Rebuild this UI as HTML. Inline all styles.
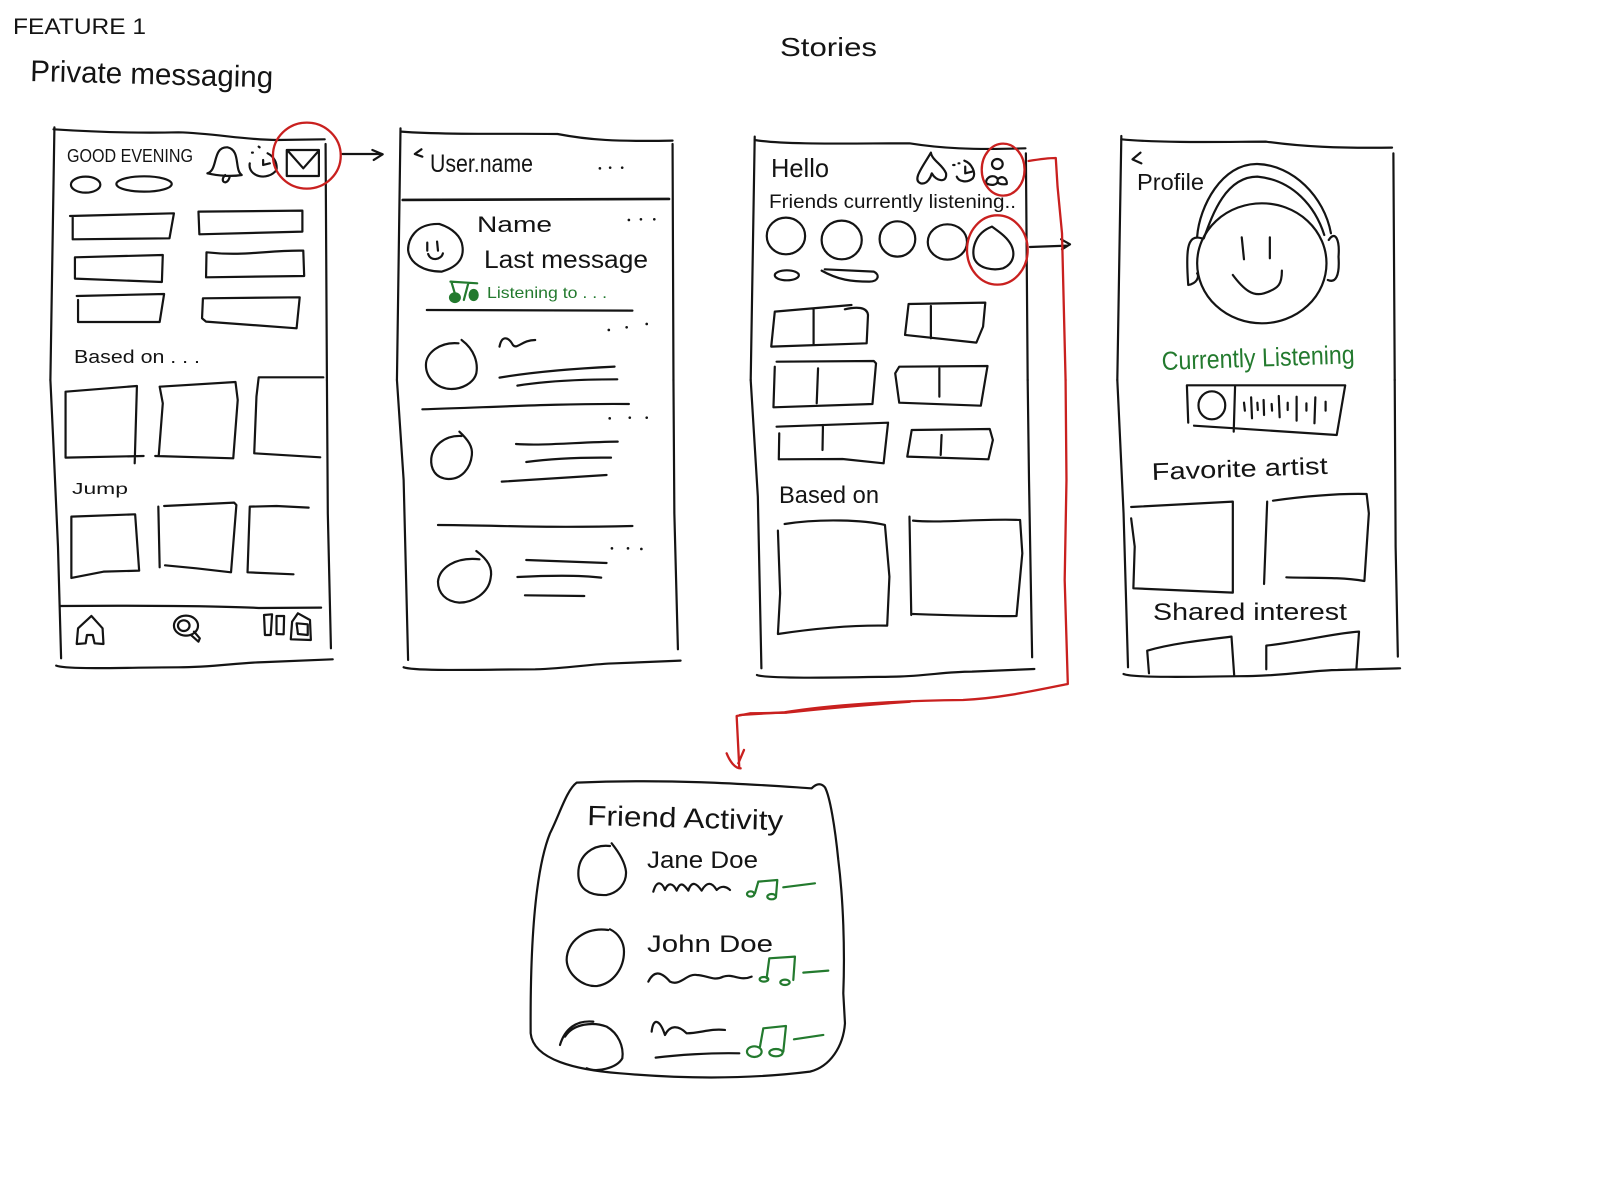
<!DOCTYPE html>
<html><head><meta charset="utf-8"><title>Wireframes</title>
<style>
html,body{margin:0;padding:0;background:#fff;width:1600px;height:1180px;overflow:hidden}
svg{display:block}
path,ellipse{fill:none;stroke:#141414;stroke-width:2.2;vector-effect:non-scaling-stroke;stroke-linecap:round;stroke-linejoin:round}
.r path,.r ellipse{stroke:#c9201f;stroke-width:2.3}
.g path,.g ellipse{stroke:#237a2e;stroke-width:2.2}
.f{fill:#237a2e!important}
.d path{stroke-width:2.6}
text{font-family:"Liberation Sans",sans-serif;fill:#141414}
.gt{fill:#237a2e}
</style></head><body>
<svg width="1600" height="1180" viewBox="0 0 1600 1180" xmlns="http://www.w3.org/2000/svg">
<rect width="1600" height="1180" fill="#fff"/>

<!-- Z1 -->
<g transform="translate(0,0) scale(.446,.3333)">
<path d="M122 382 L113 1140"/>
<path d="M120 388 C200 395 300 400 400 397 C480 400 550 420 620 420 L728 418"/>
<path d="M730 432 L733 1140"/>
<path d="M465 520 C490 510 475 440 510 442 C540 450 525 510 542 525 C520 530 490 528 465 520 M505 525 C490 545 510 560 515 530"/>
<path d="M560 490 C555 530 600 545 620 510 C622 490 615 470 600 460 M565 458 l2 0 M580 440 l2 2 M590 480 L590 495 L605 490"/>
<path d="M643 450 L715 450 L715 528 L643 528 Z M645 452 L680 505 L715 452"/>
<path d="M768 462 L855 462 M835 450 L858 463 L838 480"/>
<ellipse cx="192" cy="554" rx="33" ry="24"/><ellipse cx="323" cy="552" rx="62" ry="23"/>
<path d="M157 648 L390 640 L380 715 L163 718 L163 650"/>
<path d="M445 635 L678 632 L678 695 L447 703 Z"/>
<path d="M168 772 L365 765 L363 846 L168 836 Z"/>
<path d="M463 757 C550 770 600 750 680 752 L682 828 L462 832 Z"/>
<path d="M172 888 L368 882 L358 966 L175 966 L175 900"/>
<path d="M455 895 L672 892 L665 985 L462 965 L453 955 Z"/>
<!-- frame 2 -->
<path d="M898 385 L890 1140"/><path d="M1508 432 L1510 1140"/>
<path d="M900 395 C1000 405 1150 400 1250 402 C1320 420 1380 425 1508 422"/>
<path d="M903 600 L1500 597" style="stroke-width:2.6"/>
<path d="M945 448 L930 462 L947 470"/>
<g class="d"><path d="M1345 505 l.1 0 M1368 503 l.1 0 M1395 503 l.1 0 M1410 660 l.1 0 M1437 658 l.1 0 M1467 658 l.1 0 M1365 990 l.1 0 M1405 982 l.1 0 M1450 972 l.1 0"/></g>
<path d="M985 672 C930 670 915 720 915 750 C918 790 950 815 990 815 C1030 800 1040 770 1037 740 C1035 710 1015 685 985 672"/>
<path d="M958 728 L958 752 M980 725 L982 752 M960 762 C965 785 990 780 993 760"/>
<path d="M957 930 L1418 932"/>
<g class="g"><path d="M1010 845 L1070 850 M1012 845 L1022 890 M1050 850 L1040 900"/>
<ellipse class="f" cx="1020" cy="893" rx="11" ry="13"/><ellipse class="f" cx="1062" cy="885" rx="9" ry="15"/></g>
<path d="M1035 1020 C1065 1050 1072 1090 1068 1120 C1062 1150 1035 1168 1010 1167 C980 1165 955 1135 955 1095 C955 1060 985 1025 1028 1030"/>
<path d="M1120 1040 C1125 1005 1140 1010 1150 1035 C1160 1050 1170 1020 1200 1020"/>
<path d="M1120 1133 C1200 1115 1300 1105 1378 1100"/>
<path d="M1160 1157 C1230 1142 1300 1138 1384 1138"/>
<g class="r"><ellipse cx="688" cy="467" rx="76" ry="99"/></g>
</g>

<!-- Z2 -->
<g transform="translate(0,380) scale(.446,.3333)">
<path d="M113 0 L120 200 L130 500 L137 835"/>
<path d="M733 0 L735 400 L742 805"/>
<path d="M126 857 C150 870 300 862 400 862 C480 862 530 848 600 846 L746 838"/>
<path d="M135 678 C300 676 500 678 580 684 L720 683"/>
<path d="M147 35 L307 18 L302 250 M147 35 L147 233 L322 228"/>
<path d="M358 20 L528 6 L533 60 L523 235 L348 228 M358 20 L365 70 L356 225"/>
<path d="M725 -8 L580 -8 L575 50 L570 220 L718 232"/>
<path d="M160 410 L303 403 L312 572 L232 575 L160 594 Z"/>
<path d="M368 378 L525 368 L530 375 L518 577 L440 565 L370 556 M355 380 L358 562"/>
<path d="M692 383 L620 378 L560 380 L555 577 L658 583"/>
<path d="M172 792 L175 745 L205 708 L230 745 L232 792 L212 790 L208 765 L195 765 L192 790 Z"/>
<ellipse cx="417" cy="737" rx="27" ry="30"/><ellipse cx="412" cy="737" rx="13" ry="16"/>
<path d="M428 765 L445 785 L448 775 L435 755"/>
<path d="M592 705 L610 703 L607 765 L594 765 Z M620 708 L637 708 L636 763 L620 762 Z M655 725 L668 700 L695 720 L697 780 L652 778 Z M665 730 L690 733 L690 765 L668 762 Z"/>
<!-- frame 2 -->
<path d="M890 0 L905 300 L915 840"/><path d="M1510 0 L1512 400 L1520 808"/>
<path d="M905 862 C930 875 1100 868 1200 868 C1280 865 1320 852 1380 850 L1526 842"/>
<path d="M947 88 C1100 82 1250 70 1410 72"/>
<g class="d"><path d="M1367 115 l.1 0 M1412 113 l.1 0 M1450 113 l.1 0 M1372 505 l.1 0 M1408 505 l.1 0 M1438 507 l.1 0"/></g>
<path d="M1030 155 C1050 180 1060 200 1058 225 C1055 265 1035 298 1005 297 C975 295 965 265 967 235 C970 200 995 165 1035 168"/>
<path d="M1157 192 C1220 198 1300 186 1385 185 M1180 246 C1240 235 1300 232 1370 233 M1125 305 L1360 285"/>
<path d="M982 435 C1100 435 1200 445 1418 438"/>
<path d="M1068 513 C1095 540 1105 565 1100 595 C1095 640 1060 668 1030 668 C1000 665 982 640 982 605 C985 565 1020 530 1075 538"/>
<path d="M1180 540 L1360 549 M1160 591 C1220 587 1300 585 1348 593 M1177 646 L1310 648"/>
</g>

<!-- Z3 -->
<g transform="translate(740,0) scale(.446,.3333)">
<path d="M33 410 L24 1140"/><path d="M641 460 L645 1140"/>
<path d="M33 420 C100 435 250 430 380 430 C450 445 520 450 640 445"/>
<path d="M428 458 C410 500 385 540 405 550 C420 555 428 530 430 520 C440 545 465 550 462 520 C455 495 430 480 428 458"/>
<path d="M478 495 l3 0 M490 490 l2 0 M503 482 C520 490 530 520 522 535 C510 550 490 545 486 530 M505 500 L505 520 L520 515"/>
<ellipse cx="577" cy="492" rx="12" ry="15"/>
<path d="M552 550 C550 530 570 520 578 538 C590 522 600 540 598 552 C585 555 575 550 578 540 M552 550 C565 558 575 555 578 545"/>
<ellipse cx="103" cy="708" rx="43" ry="55"/><ellipse cx="228" cy="720" rx="45" ry="58"/>
<ellipse cx="353" cy="717" rx="40" ry="53"/><ellipse cx="465" cy="726" rx="44" ry="53"/>
<path d="M565 680 C525 700 520 750 525 775 C535 808 570 812 590 805 C615 790 617 760 608 735 C598 710 580 695 565 680"/>
<ellipse cx="105" cy="826" rx="27" ry="15"/>
<path d="M183 812 C220 840 250 845 290 845 C310 845 315 825 300 815 L190 808"/>
<path d="M78 935 L250 915 M235 928 C260 920 285 920 287 945 L284 1030 L70 1040 L78 935 M165 925 L165 1035"/>
<path d="M378 912 L550 908 L545 980 L530 1028 L370 1005 Z M428 918 L428 1015"/>
<path d="M650 741 L735 737 M720 718 L740 733 L722 748"/>
<!-- frame 4 -->
<path d="M855 408 L846 1140"/><path d="M1465 460 L1468 1140"/>
<path d="M855 418 C950 430 1100 425 1180 425 C1260 440 1340 445 1462 443"/>
<path d="M898 458 L880 478 L900 490"/>
<ellipse cx="1170" cy="790" rx="145" ry="180"/>
<path d="M1025 710 C1030 620 1080 490 1160 492 C1240 495 1310 590 1325 700"/>
<path d="M1040 715 C1060 640 1090 530 1160 530 C1240 540 1290 620 1310 705"/>
<path d="M1035 715 C1000 700 1000 760 1005 855 C1025 850 1030 830 1025 820"/>
<path d="M1320 720 C1335 690 1345 720 1342 770 C1345 830 1335 850 1318 840"/>
<path d="M1125 712 L1130 778 M1188 712 L1188 775 M1105 825 C1130 870 1150 890 1175 880 C1210 865 1215 850 1215 812"/>
<g class="r">
<ellipse cx="590" cy="509" rx="48" ry="78"/><ellipse cx="577" cy="750" rx="68" ry="104"/>
<path d="M647 483 C670 478 690 474 708 474 L712 560 L722 700 L730 1140"/>
</g>
</g>

<!-- Z4 -->
<g transform="translate(740,380) scale(.446,.3333)">
<path d="M24 0 L40 350 L48 865"/><path d="M645 0 L648 300 L655 832"/>
<path d="M38 885 C60 898 250 892 350 890 C420 888 460 875 520 875 L660 867"/>
<path d="M82 -55 L300 -57 L305 -50 L297 72 L75 82 L78 -40 M175 -35 L172 70"/>
<path d="M357 -40 L555 -42 L540 77 L357 68 L348 -20 Z M447 -35 L447 50"/>
<path d="M82 140 L332 128 L322 250 L230 237 L87 238 L88 160 M186 135 L185 210"/>
<path d="M385 150 L560 147 L567 180 L557 238 L375 230 Z M452 165 L450 225"/>
<path d="M100 432 C180 415 280 420 325 435 L335 590 L330 737 C250 735 170 745 85 762 L90 640 L85 452"/>
<path d="M388 422 C450 430 550 415 628 420 L633 520 L620 708 C550 710 450 705 388 702 M380 410 L384 705"/>
<!-- frame 4 -->
<path d="M846 0 L860 400 L870 862"/><path d="M1468 0 L1470 500 L1475 830"/>
<path d="M860 882 C880 895 1050 890 1150 888 C1240 885 1290 870 1340 870 L1480 865"/>
<path d="M1002 16 L1357 16 L1338 165 L1110 145 L1018 137 M1002 16 L1005 128 M1110 20 L1107 155"/>
<ellipse cx="1058" cy="76" rx="30" ry="42"/>
<path d="M1130 68 L1132 92 M1146 52 L1148 115 M1160 68 L1161 90 M1174 60 L1175 105 M1192 72 L1193 92 M1208 48 L1210 112 M1228 68 L1228 90 M1248 50 L1248 122 M1270 70 L1270 92 M1290 52 L1288 130 M1313 65 L1313 92"/>
<path d="M877 381 L1105 365 L1105 638 L882 625 L885 500 L877 415"/>
<path d="M1195 362 C1260 350 1340 340 1405 342 L1410 400 L1400 603 C1340 590 1280 595 1225 592 M1182 365 L1175 612"/>
<path d="M917 880 L913 812 C970 790 1040 780 1102 770 L1108 885"/>
<path d="M1180 868 L1180 797 C1260 785 1330 760 1388 755 L1382 868"/>
<g class="r"><path d="M730 0 L732 300 L728 600 L735 912 C650 935 580 955 500 960 C350 962 200 975 100 997 L0 1005"/></g>
</g>

<!-- Z5 -->
<g transform="translate(510,700) scale(.3333)">
<g class="r"><path d="M1200 5 C1000 20 900 30 830 38 L720 40 L680 48 L688 205 M650 160 C660 185 675 205 692 205 M702 150 L685 190"/></g>
<path d="M905 265 C750 255 500 235 200 248 C170 270 150 340 120 400 C80 500 60 700 62 1000 C70 1080 200 1110 330 1120 C500 1135 700 1140 900 1115 C960 1100 1000 1040 1005 970 L1000 880 C1005 750 1000 600 985 480 C975 380 960 290 945 262 C930 245 915 255 905 265"/>
<path d="M300 438 C250 432 205 465 205 520 C205 565 235 588 290 585 C325 578 350 550 348 515 C345 485 325 455 305 430"/>
<path d="M295 690 C225 680 170 725 170 780 C172 825 220 862 262 858 C310 850 342 805 342 755 C342 725 325 700 300 688"/>
<path d="M150 1035 C165 985 200 960 250 965 M165 1010 C190 970 250 965 290 980 C325 1000 342 1040 337 1075 C320 1105 260 1118 230 1105"/>
<path d="M430 575 C440 540 455 545 465 570 C475 545 490 550 500 572 C510 545 520 550 535 572 C545 540 560 550 575 572 C590 545 605 545 620 570 C635 555 650 560 660 570"/>
<path d="M415 845 C430 815 450 810 480 845 C510 860 530 820 560 825 C590 825 610 845 640 830 C670 820 690 845 725 830"/>
<path d="M425 995 C430 950 450 960 465 1005 C480 975 505 975 530 1000 C570 1000 600 985 645 990"/>
<path d="M437 1073 C500 1065 600 1058 688 1060"/>
<g class="g">
<path d="M745 545 L802 540 L798 590 M745 545 L735 580 M820 562 L915 550"/>
<ellipse cx="722" cy="582" rx="11" ry="8"/><ellipse cx="785" cy="590" rx="13" ry="8"/>
<path d="M778 775 L855 770 L850 840 M778 775 L770 835 M880 818 L955 812"/>
<ellipse cx="762" cy="838" rx="13" ry="7"/><ellipse cx="825" cy="847" rx="14" ry="8"/>
<path d="M760 985 L828 978 L820 1055 M760 985 L750 1040 M852 1018 L940 1005"/>
<ellipse cx="733" cy="1055" rx="22" ry="16"/><ellipse cx="798" cy="1058" rx="20" ry="11"/>
</g>
</g>

<!-- Text -->
<text x="13" y="34" font-size="22" textLength="133" lengthAdjust="spacingAndGlyphs">FEATURE 1</text>
<text x="30" y="81" font-size="30" textLength="243" lengthAdjust="spacingAndGlyphs" transform="rotate(1.5 30 81)">Private messaging</text>
<text x="67" y="162" font-size="18" textLength="126" lengthAdjust="spacingAndGlyphs">GOOD EVENING</text>
<text x="74" y="363" font-size="18" textLength="126" lengthAdjust="spacingAndGlyphs">Based on . . .</text>
<text x="72" y="494" font-size="16" textLength="56" lengthAdjust="spacingAndGlyphs">Jump</text>
<text x="430" y="172" font-size="25" textLength="103" lengthAdjust="spacingAndGlyphs">User.name</text>
<text x="477" y="232" font-size="22" textLength="75" lengthAdjust="spacingAndGlyphs">Name</text>
<text x="484" y="268" font-size="25" textLength="164" lengthAdjust="spacingAndGlyphs">Last message</text>
<text class="gt" x="487" y="298" font-size="16" textLength="120" lengthAdjust="spacingAndGlyphs">Listening to . . .</text>
<text x="780" y="56" font-size="26" textLength="97" lengthAdjust="spacingAndGlyphs">Stories</text>
<text x="771" y="177" font-size="26" textLength="58" lengthAdjust="spacingAndGlyphs">Hello</text>
<text x="769" y="208" font-size="19" textLength="247" lengthAdjust="spacingAndGlyphs">Friends currently listening..</text>
<text x="1137" y="190" font-size="23" textLength="67" lengthAdjust="spacingAndGlyphs">Profile</text>
<text class="gt" x="1162" y="370" font-size="26" textLength="193" lengthAdjust="spacingAndGlyphs" transform="rotate(-2 1162 370)">Currently Listening</text>
<text x="779" y="503" font-size="24" textLength="100" lengthAdjust="spacingAndGlyphs">Based on</text>
<text x="1152" y="480" font-size="24" textLength="176" lengthAdjust="spacingAndGlyphs" transform="rotate(-2 1152 480)">Favorite artist</text>
<text x="1153" y="620" font-size="24" textLength="194" lengthAdjust="spacingAndGlyphs">Shared interest</text>
<text x="587" y="825" font-size="28" textLength="196" lengthAdjust="spacingAndGlyphs" transform="rotate(1.5 587 825)">Friend Activity</text>
<text x="647" y="868" font-size="24" textLength="111" lengthAdjust="spacingAndGlyphs">Jane Doe</text>
<text x="647" y="952" font-size="24" textLength="126" lengthAdjust="spacingAndGlyphs">John Doe</text>
</svg>
</body></html>
